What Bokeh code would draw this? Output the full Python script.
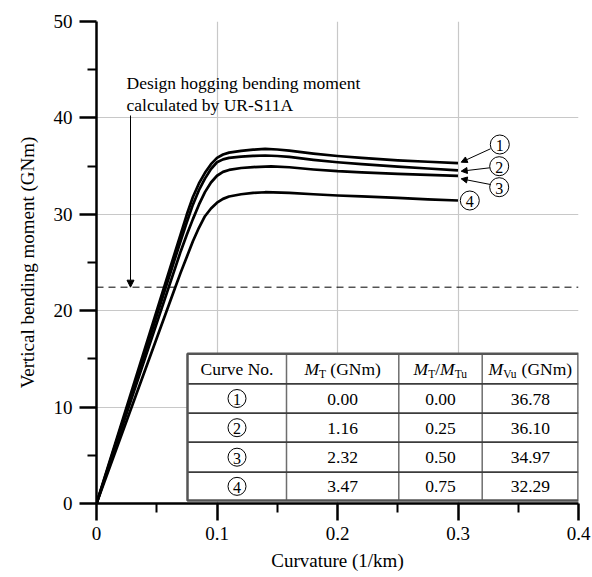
from bokeh.plotting import figure
from bokeh.models import FixedTicker, Arrow, NormalHead
from bokeh.core.properties import value
from bokeh.embed import file_html
from bokeh.resources import INLINE

# ---------------- data ----------------
curve1_x = [0, 0.070, 0.075, 0.080, 0.085, 0.090, 0.095, 0.100, 0.105, 0.110, 0.120, 0.130,
            0.140, 0.150, 0.160, 0.180, 0.200, 0.220, 0.250, 0.275, 0.300]
curve1_y = [0, 28.0, 30.0, 31.8, 33.2, 34.3, 35.2, 35.85, 36.2, 36.4, 36.58, 36.7,
            36.78, 36.72, 36.6, 36.3, 36.05, 35.85, 35.6, 35.45, 35.3]
curve2_x = [0, 0.070, 0.075, 0.080, 0.085, 0.090, 0.095, 0.100, 0.105, 0.110, 0.120, 0.130,
            0.140, 0.150, 0.160, 0.180, 0.200, 0.220, 0.250, 0.275, 0.300]
curve2_y = [0, 27.3, 29.2, 31.0, 32.5, 33.7, 34.7, 35.4, 35.7, 35.85, 35.98, 36.06,
            36.1, 36.05, 35.95, 35.65, 35.4, 35.2, 34.95, 34.75, 34.55]
curve3_x = [0, 0.070, 0.075, 0.080, 0.085, 0.090, 0.095, 0.100, 0.105, 0.110, 0.120, 0.130,
            0.145, 0.160, 0.180, 0.200, 0.220, 0.250, 0.275, 0.300]
curve3_y = [0, 26.2, 27.9, 29.5, 31.0, 32.3, 33.3, 34.0, 34.4, 34.6, 34.8, 34.9,
            34.97, 34.88, 34.65, 34.47, 34.35, 34.2, 34.1, 33.99]
curve4_x = [0, 0.065, 0.070, 0.075, 0.080, 0.085, 0.090, 0.095, 0.100, 0.105, 0.110, 0.120,
            0.130, 0.140, 0.160, 0.180, 0.200, 0.220, 0.250, 0.275, 0.300]
curve4_y = [0, 22.3, 24.0, 25.6, 27.2, 28.6, 29.8, 30.6, 31.2, 31.6, 31.85, 32.08,
            32.22, 32.29, 32.22, 32.08, 31.95, 31.85, 31.7, 31.55, 31.43]

design_moment = 22.44
curve_labels = ["1", "2", "3", "4"]
table_mt = ["0.00", "1.16", "2.32", "3.47"]
table_ratio = ["0.00", "0.25", "0.50", "0.75"]
table_mvu = ["36.78", "36.10", "34.97", "32.29"]

x_ticks = [0, 0.1, 0.2, 0.3, 0.4]
x_minor = [0.05, 0.15, 0.25, 0.35]
y_ticks = [0, 10, 20, 30, 40, 50]
y_minor = [5, 15, 25, 35, 45]

x_label = "Curvature (1/km)"
y_label = "Vertical bending moment (GNm)"
note_lines = ["Design hogging bending moment", "calculated by UR-S11A"]

# ---------------- layout ----------------
FONT = "Liberation Serif"
W, H = 592, 577
L, R, T, B = 96, 14, 21, 74
XMAX, YMAX = 0.4, 50
FW, FH = W - L - R, H - T - B


def px2x(px):
    return (px - L) / FW * XMAX


def py2y(py):
    return (H - B - py) / FH * YMAX


p = figure(width=W, height=H, x_range=(0, XMAX), y_range=(0, YMAX),
           output_backend="svg", toolbar_location=None,
           min_border_left=L, min_border_right=R, min_border_top=T, min_border_bottom=B)
p.outline_line_color = None
p.background_fill_color = "white"
p.border_fill_color = "white"

p.xaxis.ticker = FixedTicker(ticks=x_ticks, minor_ticks=x_minor)
p.yaxis.ticker = FixedTicker(ticks=y_ticks, minor_ticks=y_minor)
p.xaxis.major_label_overrides = {0: "0"}
p.xaxis.axis_label = x_label
p.yaxis.axis_label = y_label
for ax in (p.xaxis[0], p.yaxis[0]):
    ax.axis_line_width = 2.5
    ax.axis_line_color = "black"
    ax.major_tick_line_width = 2.5
    ax.major_tick_line_color = "black"
    ax.major_tick_out = 17
    ax.major_tick_in = 0
    ax.minor_tick_line_width = 2
    ax.minor_tick_line_color = "black"
    ax.minor_tick_out = 9
    ax.minor_tick_in = 0
    ax.major_label_text_font = FONT
    ax.major_label_text_font_size = "19px"
    ax.major_label_text_color = "black"
    ax.major_label_standoff = 6
    ax.axis_label_text_font = FONT
    ax.axis_label_text_font_size = "19px"
    ax.axis_label_text_font_style = "normal"
    ax.axis_label_text_color = "black"
p.yaxis.major_label_standoff = 7
p.yaxis.axis_label_standoff = 13
p.xaxis.axis_label_standoff = 7
for g in (p.xgrid[0], p.ygrid[0]):
    g.grid_line_color = "#c8c8c8"
    g.grid_line_width = 1.2

# design moment dashed line
p.line(x=[0, XMAX], y=[design_moment, design_moment], line_color="black",
       line_width=1, line_dash="7 5")

# curves
for cx, cy in ((curve1_x, curve1_y), (curve2_x, curve2_y),
               (curve3_x, curve3_y), (curve4_x, curve4_y)):
    p.line(x=cx, y=cy, line_color="black", line_width=2.7, line_join="round")

# note text + arrow
note_x = px2x(126)
for i, t in enumerate(note_lines):
    p.text(x=[note_x], y=[py2y(82 + 22 * i)], text=[t], text_font=value(FONT),
           text_font_size="17.5px", text_align="left", text_baseline="middle",
           text_color="black")
p.add_layout(Arrow(end=NormalHead(size=7, fill_color="black", line_color="black", line_width=1),
                   x_start=px2x(130), y_start=py2y(115), x_end=px2x(130), y_end=design_moment,
                   line_color="black", line_width=1))

# curve labels with circles and arrows
lab_centers = [(499.3, 144), (498.7, 165.7), (498.7, 186.7), (469.3, 200)]
arrow_starts = [(490, 148.3), (489.3, 167.3), (490, 184)]
arrow_ends = [(460.7, 161.7), (460.7, 170.7), (460.7, 178.3)]
for (sx, sy), (ex, ey) in zip(arrow_starts, arrow_ends):
    p.add_layout(Arrow(end=NormalHead(size=6, fill_color="black", line_color="black", line_width=1),
                       x_start=px2x(sx), y_start=py2y(sy), x_end=px2x(ex), y_end=py2y(ey),
                       line_color="black", line_width=1))
p.scatter(x=[px2x(c[0]) for c in lab_centers], y=[py2y(c[1]) for c in lab_centers],
          size=19, marker="circle", fill_color="white", line_color="black", line_width=1)
p.text(x=[px2x(c[0]) for c in lab_centers], y=[py2y(c[1] + 1) for c in lab_centers],
       text=curve_labels, text_font=value(FONT), text_font_size="16px",
       text_align="center", text_baseline="middle", text_color="black")

# ---------------- table ----------------
col_edges = [187, 286, 398.3, 481.7, 578]
row_edges = [353.3, 383.3, 412.7, 441.7, 471.7, 500]
p.quad(left=[px2x(col_edges[0])], right=[px2x(col_edges[-1])],
       top=[py2y(row_edges[0])], bottom=[py2y(row_edges[-1])],
       fill_color="white", line_color=None)
p.segment(x0=[px2x(c) for c in col_edges[1:-1]], x1=[px2x(c) for c in col_edges[1:-1]],
          y0=[py2y(row_edges[0])] * 3, y1=[py2y(row_edges[-1])] * 3,
          line_color="#6e6e6e", line_width=1.5)
p.segment(x0=[px2x(col_edges[0])] * 4, x1=[px2x(col_edges[-1])] * 4,
          y0=[py2y(r) for r in row_edges[1:-1]], y1=[py2y(r) for r in row_edges[1:-1]],
          line_color="#3c3c3c", line_width=1.8)
p.quad(left=[px2x(col_edges[0])], right=[px2x(col_edges[-1])],
       top=[py2y(row_edges[0])], bottom=[py2y(row_edges[-1])],
       fill_color=None, line_color="#555555", line_width=2.5)

FS = 17.5
SFS = 11.5
WID = {' ': 250, '(': 333, ')': 333, '/': 278, 'G': 722, 'N': 722, 'm': 778,
       'T': 611, 'u': 500, 'V': 722}
WID_I = {'M': 833}


def tw(s, size, italic=False):
    tab = WID_I if italic else WID
    return sum(tab.get(c, 500) for c in s) * size / 1000.0


def rich(runs, cx, mid_py):
    sizes = [SFS if k == 's' else FS for _, k in runs]
    widths = [tw(t, s, k == 'i') for (t, k), s in zip(runs, sizes)]
    xoff = -sum(widths) / 2
    for (t, k), s, w in zip(runs, sizes, widths):
        lead = len(t) - len(t.lstrip(' '))
        shown = t.lstrip(' ')
        off = xoff + tw(' ' * lead, s)
        yy = mid_py + (5 if k == 's' else 0)
        p.text(x=[px2x(cx)], y=[py2y(yy)], text=[shown], x_offset=off,
               text_font=value(FONT), text_font_size=f"{s}px",
               text_font_style="italic" if k == 'i' else "normal",
               text_align="left", text_baseline="middle", text_color="black")
        xoff += w


col_c = [(col_edges[i] + col_edges[i + 1]) / 2 for i in range(4)]
row_c = [(row_edges[i] + row_edges[i + 1]) / 2 for i in range(5)]
mid_off = 0.5
p.text(x=[px2x(col_c[0])], y=[py2y(row_c[0] + mid_off)], text=["Curve No."],
       text_font=value(FONT), text_font_size=f"{FS}px", text_align="center",
       text_baseline="middle", text_color="black")
rich([("M", 'i'), ("T", 's'), (" (GNm)", 'n')], col_c[1], row_c[0] + mid_off)
rich([("M", 'i'), ("T", 's'), ("/", 'n'), ("M", 'i'), ("Tu", 's')], col_c[2], row_c[0] + mid_off)
rich([("M", 'i'), ("Vu", 's'), (" (GNm)", 'n')], col_c[3], row_c[0] + mid_off)

body_y = [py2y(r + mid_off) for r in row_c[1:]]
for ci, vals in ((1, table_mt), (2, table_ratio), (3, table_mvu)):
    p.text(x=[px2x(col_c[ci])] * 4, y=body_y, text=vals, text_font=value(FONT),
           text_font_size=f"{FS}px", text_align="center", text_baseline="middle",
           text_color="black")
p.scatter(x=[px2x(col_c[0])] * 4, y=[py2y(r) for r in row_c[1:]], size=18,
          marker="circle", fill_color="white", line_color="black", line_width=1)
p.text(x=[px2x(col_c[0])] * 4, y=[py2y(r + 1) for r in row_c[1:]], text=curve_labels,
       text_font=value(FONT), text_font_size="16px", text_align="center",
       text_baseline="middle", text_color="black")

open("out.html", "w").write(file_html(p, INLINE))
